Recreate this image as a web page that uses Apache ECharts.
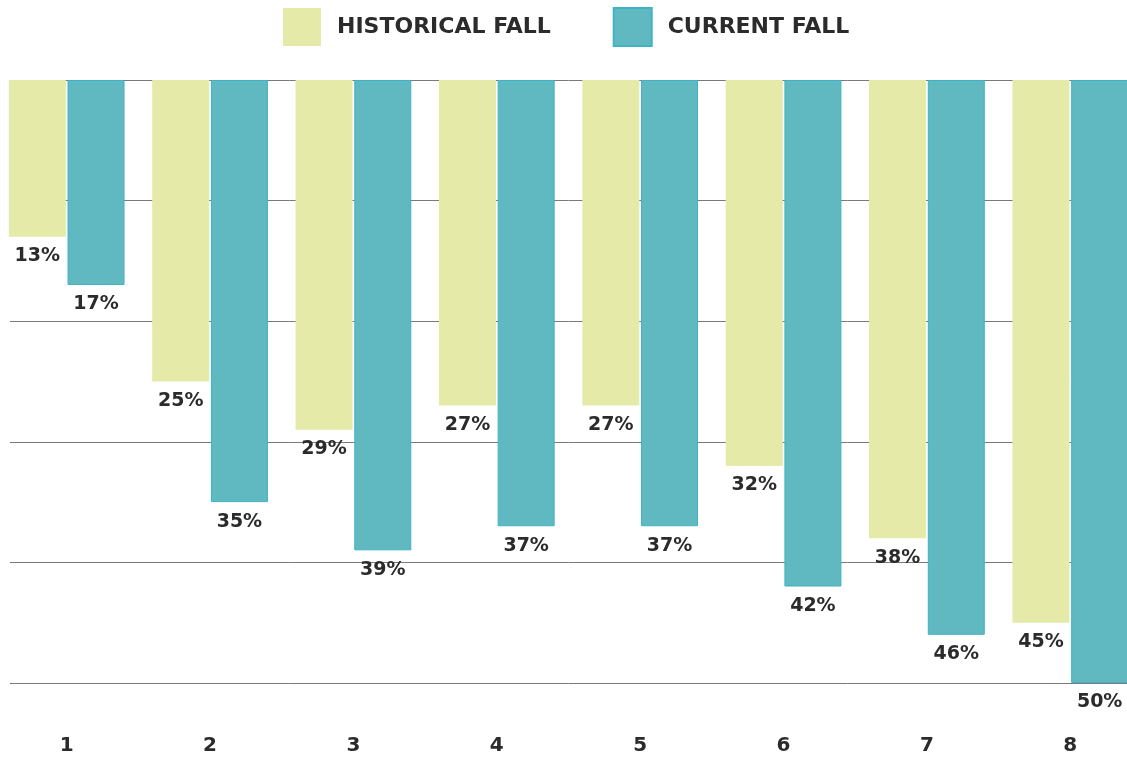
<!DOCTYPE html>
<html>
<head>
<meta charset="utf-8">
<script src="https://cdn.jsdelivr.net/npm/echarts@6/dist/echarts.min.js"></script>
<style>html,body{margin:0;padding:0;background:#fff}#c{width:1127px;height:763px}</style>
</head>
<body>
<div id="c"></div>
<script>
var categories = ['1','2','3','4','5','6','7','8'];
var historicalFall = [13, 25, 29, 27, 27, 32, 38, 45];
var currentFall = [17, 35, 39, 37, 37, 42, 46, 50];
var seriesNames = ['HISTORICAL FALL', 'CURRENT FALL'];

var FONT = '"DejaVu Sans", sans-serif';
var chart = echarts.init(document.getElementById('c'), null, {renderer: 'canvas'});
var labelStyle = {
  show: true, position: 'bottom', distance: 10,
  formatter: function (p) { return p.value + '%'; },
  color: '#2b2b2b', fontSize: 19, fontWeight: 'bold', fontFamily: FONT
};
chart.setOption({
  animation: false,
  backgroundColor: '#fff',
  legend: {
    top: 7, left: 283, padding: 0,
    itemWidth: 38, itemHeight: 38, itemGap: 62,
    icon: 'rect',
    textStyle: { color: '#2b2b2b', fontSize: 22, fontWeight: 'bold', fontFamily: FONT, padding: [3, 0, 0, 11] },
    data: seriesNames
  },
  grid: [
    { left: -5, top: 80, width: 1147, height: 603, containLabel: false, outerBoundsMode: 'none' },
    { left: 10, top: 80, width: 1117, height: 603, containLabel: false, outerBoundsMode: 'none' }
  ],
  xAxis: [
    {
      type: 'category', data: categories, gridIndex: 0, position: 'bottom',
      axisLine: { show: false, onZero: false }, axisTick: { show: false },
      axisLabel: { color: '#2b2b2b', fontSize: 20, fontWeight: 'bold', fontFamily: FONT, margin: 53 }
    },
    {
      type: 'category', data: categories, gridIndex: 1,
      axisLine: { show: false }, axisTick: { show: false }, axisLabel: { show: false }
    }
  ],
  yAxis: [
    {
      type: 'value', gridIndex: 0, inverse: true, min: 0, max: 50, interval: 10,
      axisLine: { show: false }, axisTick: { show: false }, axisLabel: { show: false },
      splitLine: { show: false }
    },
    {
      type: 'value', gridIndex: 1, inverse: true, min: 0, max: 50, interval: 10,
      axisLine: { show: false }, axisTick: { show: false }, axisLabel: { show: false },
      splitLine: { show: true, lineStyle: { color: '#7a7a7a', width: 1 } }
    }
  ],
  series: [
    {
      name: seriesNames[0], type: 'bar', xAxisIndex: 0, yAxisIndex: 0, z: 3,
      data: historicalFall, barWidth: 57, barGap: '3%',
      itemStyle: { color: '#e5eaa8' },
      label: labelStyle
    },
    {
      name: seriesNames[1], type: 'bar', xAxisIndex: 0, yAxisIndex: 0, z: 3,
      data: currentFall, barWidth: 57, barGap: '3%',
      itemStyle: { color: '#60b9c0', borderColor: '#3db3c5', borderWidth: 1 },
      label: labelStyle
    },
    {
      name: 'grid-helper', type: 'bar', xAxisIndex: 1, yAxisIndex: 1, data: [], silent: true
    }
  ]
});
</script>
</body>
</html>
